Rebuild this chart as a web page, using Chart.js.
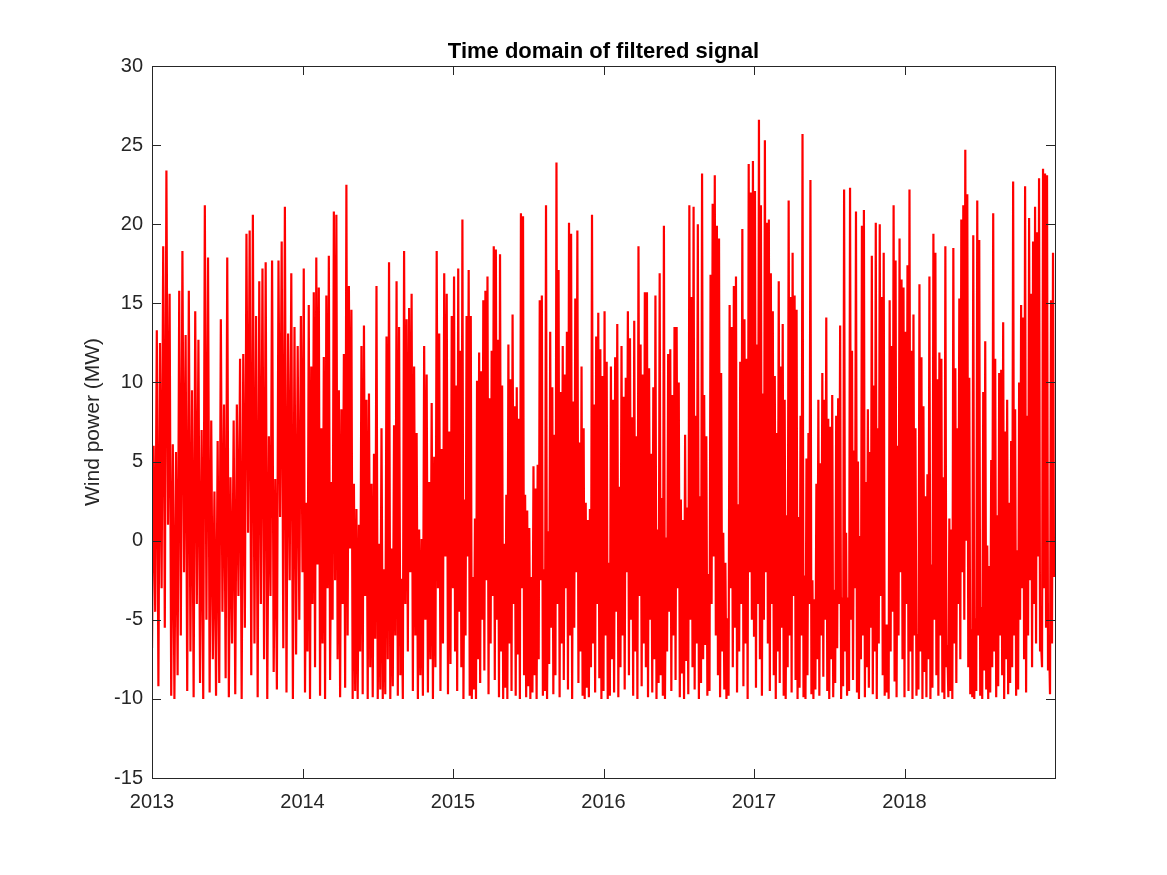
<!DOCTYPE html>
<html>
<head>
<meta charset="utf-8">
<script src="https://cdn.jsdelivr.net/npm/chart.js@4.4.0/dist/chart.umd.min.js"></script>
<style>
    body { margin: 0; background: #fff; }
    #wrap { width: 1167px; height: 875px; position: relative; }
</style>
</head>
<body>
<div id="wrap"><canvas id="signalChart"></canvas></div>
<script>
// Filtered wind power signal (MW)
const years = [2013, 2014, 2015, 2016, 2017, 2018];

const y2013 = [-6.8, 6.0, -4.5, 13.3, -9.2, 12.5, -3.0, 18.6, -5.5, 23.4, 1.0, 15.6, -9.8, 6.1, -10, 5.6, -8.5, 15.8, -6, 18.3, -2, 13.0, -9.5, 15.8, -7, 9.5, -9.9, 14.5, -4, 12.7, -9, 7.0, -10, 21.2, -5, 17.9, -9.6, 7.6, -7.5, 3.1, -9.8, 6.3, -9, 14.0, -4.5, 8.6, -8.7, 17.9, -9.9, 4.0, -6.5, 7.6, -9.7, 8.6, -3.5, 11.5, -10, 11.8, -5.5, 19.4, 0.5, 19.6, -8.5, 20.6, -6.5, 14.2, -9.9, 16.4, -4, 17.2, -7.5, 17.6, -10, 6.6, -3.5, 17.7, -8.3, 3.9, -9.4, 17.7, 1.5, 18.9, -6.8, 21.1, -9.6, 13.1, -2.5, 16.9, -10, 13.5, -7.2, 12.3, -5, 14.2];

const y2014 = [-2, 17.2, -9.6, 2.4, -7, 14.9, -10, 11.0, -4, 15.7, -8, 17.9, -1.5, 16.0, -9.8, 7.1, -6.5, 11.6, -10, 15.5, -3, 18.0, -8.8, 3.7, -5, 20.8, -2.5, 20.6, -7.5, 9.5, -9.9, 8.3, -4, 11.8, -9.3, 22.5, -6, 16.1, -0.5, 14.6, -10, 3.6, -9.5, 2.0, -10, 1.0, -7, 12.3, -9.7, 13.6, -3.5, 8.9, -10, 9.3, -8, 3.6, -9.9, 5.5, -6.2, 16.1, -10, -0.2, -9.4, 7.1, -10, -1.8, -9.7, 12.9, -7.5, 17.6, -10, -0.5, -9.2, 7.3, -6, 16.4, -9.8, 13.5, -8.5, -2.4, -10, 18.3, -4, 14.0, -7, 14.7, -2, 15.6, -9.5, 11.0, -6, 6.8, -10, 0.7, -8.5, 0.1, -9.8, 12.3, -5, 10.5, -9.6, 3.7, -7.5, 8.7, -10, 5.3, -8, 18.3, -3, 13.1, -9.5, 5.8, -6.5, 16.9, -1, 15.6, -9.7, 6.9, -7.8, 14.2];

const y2015 = [-3, 16.7, -7, 9.8, -9.5, 17.2, -4.5, 12.0, -8, 20.3, -10, 2.6, -6, 14.2, -1, 17.1, -9.8, 14.2, -10, -2.3, -9.4, 1.4, -10, 10.1, -7.5, 11.9, -9, 10.7, -5, 15.2, -8.2, 15.8, -2.5, 16.7, -9.7, 9.0, -6.5, 12.0, -3.5, 18.6, -8.8, 18.4, -5, 12.7, -9.9, 18.1, -7, 9.8, -10, -0.2, -9.3, 2.9, -10, 12.4, -6.5, 10.2, -9.5, 14.3, -4, 8.5, -9.8, 9.7, -7.2, 7.7, -10, 20.7, -3, 20.5, -8.5, 2.9, -9.9, 1.9, -9.2, 0.8, -10, -2.3, -9.6, 4.7, -8.5, 3.3, -10, 4.8, -7.5, 15.2, -2.5, 15.5, -9.8, -1.8, -9.5, 21.2, -10, 0.6, -7.8, 13.2, -5.5, 9.7, -9.7, 6.7, -8.5, 23.9, -4, 17.1, -9.9, 9.4, -6.5, 12.3, -8.8, 10.5, -3, 13.2, -9.4, 20.1, -6, 19.4, -10, 8.8, -5.5, 15.3, -2, 19.6, -9, 6.2, -7, 11.0, -9.8, 7.1, -10, 2.4, -9.3, 1.3, -9.9, 2.0, -8, 20.6, -6.5, 8.6, -9.6, 12.9, -4, 14.4, -8.7, 12.1, -10, 10.4];

const y2016 = [-9.5, 14.5, -6, 11.3, -10, -1.4, -9.8, 11.0, -7.5, 8.9, -9.6, 11.6, -4.5, 13.7, -9.9, 3.4, -8, 12.3, -6, 9.1, -9.4, 10.3, -2, 14.5, -8.5, 12.8, -5, 7.8, -9.8, 13.9, -7, 6.6, -10, 18.6, -3.5, 12.4, -9.2, 10.5, -6.5, 15.7, -8, 15.7, -9.9, 10.9, -5, 5.5, -9.6, 9.7, -7.5, 15.5, -10, 0.7, -9, 16.9, -8.5, 2.7, -9.8, 19.9, -10, 0.2, -7, 11.8, -4.5, 12.1, -9.5, 9.2, -6, 13.5, -8.8, 13.5, -3, 10.0, -9.9, 2.6, -8.4, 1.3, -10, 6.7, -7.6, 2.1, -9.7, 21.2, -5, 15.4, -8, 21.1, -9.4, 7.9, -6.5, 20.0, -10, 2.8, -9, 23.2, -7.5, 9.2, -6.6, 6.6, -9.8, -2.1, -9.5, 16.8, -4, 21.3, -1, 23.1, -6, 19.9, -8.5, 19.1, -9.9, 10.6, -7, 0.5, -9.4, -1.4, -10, -4.9, -9.8, 14.9, -3, 13.5, -8, 16.1, -5.5, 16.7, -9.6, 2.3, -7, 11.3, -4, 19.7, -9.2, 14.0, -6.5, 11.5, -10, 23.8, -2, 22.0, -5, 24.0];

const y2017 = [-6, 22.1, -9.3, 12.4, -4, 26.6, -7.5, 21.2, -9.8, 9.3, -5, 25.3, -2, 20.1, -6.5, 20.3, -9.5, 16.9, -4, 14.5, -8.5, 10.4, -10, 6.8, -7, 16.4, -9, 11.0, -5.5, 13.7, -9.8, 8.9, -10, 1.6, -8, 21.5, -6, 15.4, -9.6, 18.2, -3.5, 15.5, -8.8, 14.6, -10, 1.5, -9.3, 7.9, -6, 25.7, -9.9, -2.2, -10, 5.2, -8.5, 6.8, -4, 22.8, -9.7, -2.5, -10, -3.7, -9.4, 3.6, -7.5, 8.9, -9.8, 4.9, -6, 10.6, -8.6, 8.9, -5, 14.1, -9.5, 7.7, -10, 7.2, -7.5, 9.2, -9.9, -3.1, -9, 7.9, -6.8, 9.0, -4, 13.6, -10, -3.6, -9.2, 22.2, -7, 0.5, -9.8, -3.6, -9.5, 22.3, -5, 12.0, -8.8, 5.7, -3, 20.8, -9.6, 5.0, -10, 0.3, -7.5, 19.9, -6, 20.9, -9.9, 3.7, -8, 8.3, -9.3, 5.6, -5.5, 18.0, -9.7, 9.8, -7, 20.1, -10, 7.1, -6.5, 20.0, -3.5, 15.4, -8.5, 18.2, -9.8, -5.3, -9.6, -5.3, -10, 15.2, -7, 12.3, -4.5, 21.2, -8.9, 17.7, -9.9, 6.0, -6, 19.1, -2, 16.5, -7.5, 16.0];

const y2018 = [-9.9, 13.2, -4, 17.4, -9.5, 22.2, -7, 12.0, -10, 14.3, -6, 7.1, -9.8, -5.9, -9.4, 16.2, -7, 11.6, -10, 8.5, -8.3, 2.8, -9.9, 4.2, -7.5, 16.7, -10, -1.5, -9.3, 19.4, -5, 18.2, -8.5, 10.2, -9.8, 11.9, -6, 11.5, -9.6, 4.0, -10, 18.6, -8, -6.6, -9.9, 1.4, -9.5, 0.7, -10, 18.5, -6.5, 10.9, -9, 7.1, -4, 15.3, -7.5, 20.3, -2, 21.2, -5, 24.7, 0, 21.9, -8, 10.3, -9.7, -5.6, -9.9, 19.3, -10, -4.9, -9.5, 21.5, -6, 19.0, -9.8, -4.2, -10, 9.4, -8.2, 12.6, -9.4, -0.3, -10, -1.6, -9.6, 5.1, -8, 20.7, -7, 11.5, -9.9, 1.6, -9.2, 10.6, -6, 10.8, -8.5, 13.8, -10, 6.9, -7.5, 8.9, -9.7, 2.4, -9, 6.3, -8, 22.7, -6, 8.3, -9.8, -0.6, -9.4, 10.0, -5, 14.9, -3, 14.1, -7.5, 22.4, -9.6, 7.9, -6, 20.4, -2.5, 15.6, -8, 18.9, -4, 21.1, -6.5, 19.5, -1, 22.9, -7, -6.4, -8, 23.5, -3, 23.2, -5.5, 23.1, -8.2, -6.1, -9.7, 15.2, -6.5, 18.2, -2.3];

const yTicks = [-15, -10, -5, 0, 5, 10, 15, 20, 25, 30];
const xTicks = years;

const yearSeries = [y2013, y2014, y2015, y2016, y2017, y2018];

// samples of each year are spread evenly over that year
const points = [];
yearSeries.forEach(function(vals, k) {
    vals.forEach(function(v, i) {
        points.push({ x: years[k] + i / vals.length, y: v });
    });
});

const AXIS_COLOR = '#262626';
const FONT = '"Liberation Sans", Arial, Helvetica, sans-serif';

// MATLAB style box with inward ticks, title and y label
const matlabAxes = {
    id: 'matlabAxes',
    afterDraw(chart) {
        const c = chart.ctx;
        const a = chart.chartArea;
        const xs = chart.scales.x;
        const ys = chart.scales.y;
        const tl = 9;
        c.save();
        c.strokeStyle = AXIS_COLOR;
        c.lineWidth = 1;
        c.strokeRect(Math.round(a.left) + 0.5, Math.round(a.top) + 0.5,
            Math.round(a.right - a.left), Math.round(a.bottom - a.top));
        c.beginPath();
        xTicks.forEach(function(t) {
            const px = Math.round(xs.getPixelForValue(t)) + 0.5;
            c.moveTo(px, a.bottom); c.lineTo(px, a.bottom - tl);
            c.moveTo(px, a.top); c.lineTo(px, a.top + tl);
        });
        yTicks.forEach(function(t) {
            const py = Math.round(ys.getPixelForValue(t)) + 0.5;
            c.moveTo(a.left, py); c.lineTo(a.left + tl, py);
            c.moveTo(a.right, py); c.lineTo(a.right - tl, py);
        });
        c.stroke();

        c.fillStyle = '#000';
        c.font = 'bold 22px ' + FONT;
        c.textAlign = 'center';
        c.textBaseline = 'alphabetic';
        c.fillText('Time domain of filtered signal', (a.left + a.right) / 2, 58);

        c.fillStyle = AXIS_COLOR;
        c.font = '21px ' + FONT;
        c.textBaseline = 'middle';
        c.translate(93, (a.top + a.bottom) / 2);
        c.rotate(-Math.PI / 2);
        c.fillText('Wind power (MW)', 0, 0);
        c.restore();
    }
};

const ctx = document.getElementById('signalChart').getContext('2d');
new Chart(ctx, {
    type: 'line',
    data: {
        datasets: [{
            data: points,
            borderColor: '#ff0000',
            borderWidth: 2.2,
            pointRadius: 0,
            tension: 0,
            fill: false
        }]
    },
    options: {
        responsive: true,
        maintainAspectRatio: false,
        animation: false,
        events: [],
        layout: { padding: { left: 0, right: 112, top: 66, bottom: 0 } },
        plugins: {
            legend: { display: false },
            tooltip: { enabled: false },
            title: { display: false }
        },
        scales: {
            x: {
                type: 'linear',
                min: 2013,
                max: 2019,
                afterFit: function(s) { s.height = 97; },
                afterBuildTicks: function(s) {
                    s.ticks = xTicks.map(function(v) { return { value: v }; });
                },
                grid: { display: false, drawTicks: false },
                border: { display: false },
                ticks: {
                    padding: 12,
                    color: AXIS_COLOR,
                    font: { family: FONT, size: 20 },
                    maxRotation: 0,
                    callback: function(v) { return String(v); }
                }
            },
            y: {
                min: -15,
                max: 30,
                afterFit: function(s) { s.width = 152; },
                afterBuildTicks: function(s) {
                    s.ticks = yTicks.map(function(v) { return { value: v }; });
                },
                grid: { display: false, drawTicks: false },
                border: { display: false },
                ticks: {
                    padding: 9,
                    color: AXIS_COLOR,
                    font: { family: FONT, size: 20 }
                }
            }
        }
    },
    plugins: [matlabAxes]
});
</script>
</body>
</html>
